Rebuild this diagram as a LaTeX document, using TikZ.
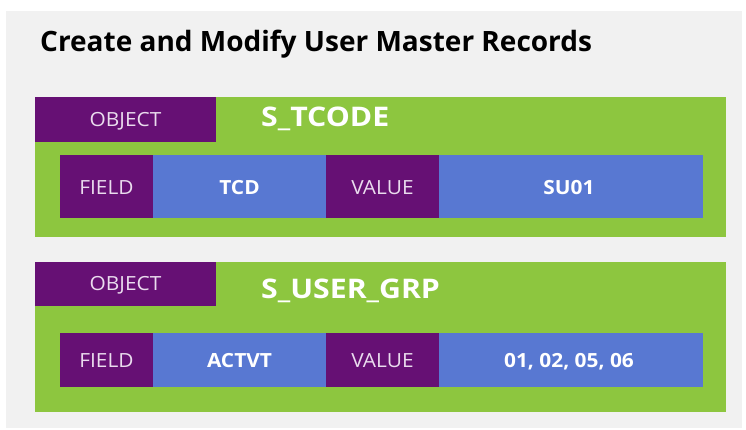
\documentclass[tikz,border=0pt]{standalone}
\usepackage{fontspec}
\setmainfont{Open Sans}
\newfontfamily\widesans[FakeStretch=1.12]{Open Sans}
\newfontfamily\labelsans[FakeStretch=1.07]{Open Sans}
\definecolor{panelgray}{HTML}{F1F1F1}
\definecolor{objpurple}{HTML}{661074}
\definecolor{boxgreen}{HTML}{8DC63F}
\definecolor{cellblue}{HTML}{5878D2}
\definecolor{lighttext}{HTML}{EADCEE}
\tikzset{
  keytext/.style={text=lighttext, inner sep=0pt, anchor=base, font=\labelsans\fontsize{19.5}{23}\selectfont},
  valtext/.style={text=white, inner sep=0pt, anchor=base, font=\labelsans\bfseries\fontsize{19.5}{23}\selectfont},
  objname/.style={text=white, inner sep=0pt, anchor=base west, font=\widesans\bfseries\fontsize{27}{32}\selectfont},
}
\begin{document}
\begin{tikzpicture}[x=1pt,y=-1pt]
\useasboundingbox (0,0) rectangle (746,429);
\fill[panelgray] (6,11) rectangle (742,428);
\node[anchor=base west, inner sep=0pt, font=\bfseries\fontsize{28}{33}\selectfont] (title) at (40,51.7) {Create and Modify User Master Records};

% first authorization object
\fill[boxgreen] (35,97) rectangle (726,237);
\fill[objpurple] (35,97) rectangle (216,142);
\node[keytext] (obj1) at (125.5,126) {OBJECT};
\node[objname] (name1) at (261,126.7) {S\_TCODE};
\fill[objpurple] (60,155) rectangle (153,218);
\fill[cellblue] (153,155) rectangle (326,218);
\fill[objpurple] (326,155) rectangle (439,218);
\fill[cellblue] (439,155) rectangle (703,218);
\node[keytext] (f1) at (106.5,194) {FIELD};
\node[valtext] (fv1) at (239.5,194) {TCD};
\node[keytext] (v1) at (382.5,194) {VALUE};
\node[valtext] (vv1) at (569,194) {SU01};

% second authorization object
\fill[boxgreen] (35,262) rectangle (726,412);
\fill[objpurple] (35,262) rectangle (216,305.5);
\node[keytext] (obj2) at (125.5,290.3) {OBJECT};
\node[objname] (name2) at (261,298.7) {S\_USER\_GRP};
\fill[objpurple] (60,333) rectangle (153,386.5);
\fill[cellblue] (153,333) rectangle (326,386.5);
\fill[objpurple] (326,333) rectangle (439,386.5);
\fill[cellblue] (439,333) rectangle (703,386.5);
\node[keytext] (f2) at (106.5,367.3) {FIELD};
\node[valtext] (fv2) at (239.5,367.3) {ACTVT};
\node[keytext] (v2) at (382.5,367.3) {VALUE};
\node[valtext] (vv2) at (569,367.3) {01, 02, 05, 06};
\end{tikzpicture}
\end{document}
